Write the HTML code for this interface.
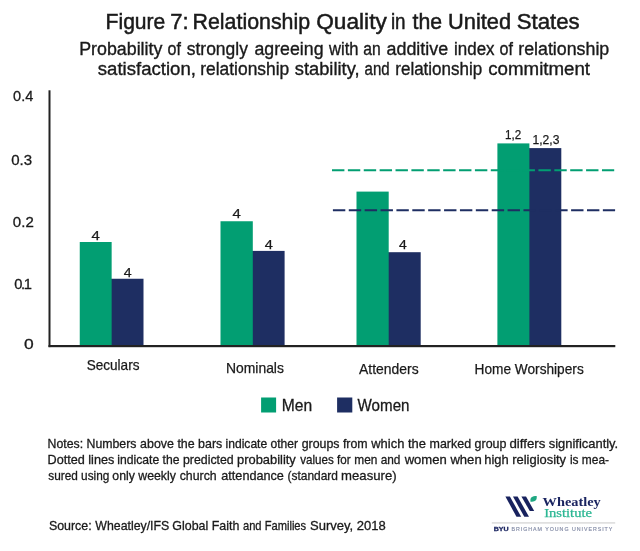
<!DOCTYPE html>
<html><head><meta charset="utf-8">
<style>
html,body{margin:0;padding:0;background:#fff;}
body{width:640px;height:551px;overflow:hidden;}
svg{display:block;}
text{font-family:"Liberation Sans",sans-serif;}
text.serif{font-family:"Liberation Serif",serif;}
</style></head><body>
<svg width="640" height="551" viewBox="0 0 640 551">
<rect width="640" height="551" fill="#ffffff"/>
<g fill="#1e2e62">
<rect x="110.6" y="278.75" width="32.9" height="67.3"/>
<rect x="251.8" y="250.9" width="32.8" height="95.3"/>
<rect x="387.7" y="252.2" width="33" height="94"/>
<rect x="528.3" y="148.1" width="33" height="198"/>
</g>
<g fill="#029e72">
<rect x="79.75" y="242" width="31.9" height="104"/>
<rect x="220.5" y="221.25" width="32.3" height="125"/>
<rect x="356.5" y="191.6" width="32.2" height="154.5"/>
<rect x="497.4" y="143.4" width="32" height="202.7"/>
</g>
<rect x="48.5" y="90.3" width="2" height="256.8" fill="#222"/>
<rect x="48.5" y="345" width="566.8" height="2.2" fill="#222"/>
<line x1="332" y1="170.25" x2="614.2" y2="170.25" stroke="#029e72" stroke-width="2.2" stroke-dasharray="12.4 3.48"/>
<line x1="332.9" y1="210.25" x2="615.1" y2="210.25" stroke="#1e2e62" stroke-width="2.2" stroke-dasharray="12.4 3.48"/>
<rect x="261.1" y="397.5" width="15" height="15" fill="#029e72"/>
<rect x="337.1" y="397.5" width="15.2" height="15" fill="#1e2e62"/>
<g fill="#18225e">
<polygon points="505.4,496.6 509.9,496.6 521.2,516.8 516.5,516.8"/>
<polygon points="513,496.6 517.6,496.6 529,516.8 524.3,516.8"/>
<polygon points="521.4,496.6 526,496.6 534.2,511 529.8,511"/>
</g>
<path d="M530.5,501.7 C529.8,497.8 532,496.1 536.7,496.1 C537.2,500.2 535,502.3 530.5,501.7 Z" fill="#1fa882"/>
<rect x="491.8" y="522.5" width="123.4" height="0.9" fill="#c2c2c2"/>

<text x="105.57" y="28.8" font-size="22.2" fill="#1a1a1a" stroke="#1a1a1a" stroke-width="0.5" textLength="59.78" lengthAdjust="spacingAndGlyphs">Figure</text>
<text x="170.26" y="28.8" font-size="22.2" fill="#1a1a1a" stroke="#1a1a1a" stroke-width="0.5" textLength="18.40" lengthAdjust="spacingAndGlyphs">7:</text>
<text x="192.56" y="28.8" font-size="22.2" fill="#1a1a1a" stroke="#1a1a1a" stroke-width="0.5" textLength="117.53" lengthAdjust="spacingAndGlyphs">Relationship</text>
<text x="316.23" y="28.8" font-size="22.2" fill="#1a1a1a" stroke="#1a1a1a" stroke-width="0.5" textLength="70.57" lengthAdjust="spacingAndGlyphs">Quality</text>
<text x="390.94" y="28.8" font-size="22.2" fill="#1a1a1a" stroke="#1a1a1a" stroke-width="0.5" textLength="14.65" lengthAdjust="spacingAndGlyphs">in</text>
<text x="412.50" y="28.8" font-size="22.2" fill="#1a1a1a" stroke="#1a1a1a" stroke-width="0.5" textLength="29.56" lengthAdjust="spacingAndGlyphs">the</text>
<text x="448.02" y="28.8" font-size="22.2" fill="#1a1a1a" stroke="#1a1a1a" stroke-width="0.5" textLength="63.10" lengthAdjust="spacingAndGlyphs">United</text>
<text x="516.75" y="28.8" font-size="22.2" fill="#1a1a1a" stroke="#1a1a1a" stroke-width="0.5" textLength="62.91" lengthAdjust="spacingAndGlyphs">States</text>
<text x="79.23" y="54.8" font-size="17.6" fill="#1a1a1a" stroke="#1a1a1a" stroke-width="0.35" textLength="83.17" lengthAdjust="spacingAndGlyphs">Probability</text>
<text x="167.54" y="54.8" font-size="17.6" fill="#1a1a1a" stroke="#1a1a1a" stroke-width="0.35" textLength="13.42" lengthAdjust="spacingAndGlyphs">of</text>
<text x="186.75" y="54.8" font-size="17.6" fill="#1a1a1a" stroke="#1a1a1a" stroke-width="0.35" textLength="61.11" lengthAdjust="spacingAndGlyphs">strongly</text>
<text x="254.50" y="54.8" font-size="17.6" fill="#1a1a1a" stroke="#1a1a1a" stroke-width="0.35" textLength="69.00" lengthAdjust="spacingAndGlyphs">agreeing</text>
<text x="328.99" y="54.8" font-size="17.6" fill="#1a1a1a" stroke="#1a1a1a" stroke-width="0.35" textLength="29.50" lengthAdjust="spacingAndGlyphs">with</text>
<text x="363.30" y="54.8" font-size="17.6" fill="#1a1a1a" stroke="#1a1a1a" stroke-width="0.35" textLength="17.43" lengthAdjust="spacingAndGlyphs">an</text>
<text x="386.49" y="54.8" font-size="17.6" fill="#1a1a1a" stroke="#1a1a1a" stroke-width="0.35" textLength="61.68" lengthAdjust="spacingAndGlyphs">additive</text>
<text x="454.04" y="54.8" font-size="17.6" fill="#1a1a1a" stroke="#1a1a1a" stroke-width="0.35" textLength="40.52" lengthAdjust="spacingAndGlyphs">index</text>
<text x="499.54" y="54.8" font-size="17.6" fill="#1a1a1a" stroke="#1a1a1a" stroke-width="0.35" textLength="13.42" lengthAdjust="spacingAndGlyphs">of</text>
<text x="518.24" y="54.8" font-size="17.6" fill="#1a1a1a" stroke="#1a1a1a" stroke-width="0.35" textLength="91.00" lengthAdjust="spacingAndGlyphs">relationship</text>
<text x="97.74" y="74.9" font-size="17.6" fill="#1a1a1a" stroke="#1a1a1a" stroke-width="0.35" textLength="98.25" lengthAdjust="spacingAndGlyphs">satisfaction,</text>
<text x="200.26" y="74.9" font-size="17.6" fill="#1a1a1a" stroke="#1a1a1a" stroke-width="0.35" textLength="88.97" lengthAdjust="spacingAndGlyphs">relationship</text>
<text x="294.74" y="74.9" font-size="17.6" fill="#1a1a1a" stroke="#1a1a1a" stroke-width="0.35" textLength="64.82" lengthAdjust="spacingAndGlyphs">stability,</text>
<text x="364.57" y="74.9" font-size="17.6" fill="#1a1a1a" stroke="#1a1a1a" stroke-width="0.35" textLength="25.13" lengthAdjust="spacingAndGlyphs">and</text>
<text x="395.28" y="74.9" font-size="17.6" fill="#1a1a1a" stroke="#1a1a1a" stroke-width="0.35" textLength="86.93" lengthAdjust="spacingAndGlyphs">relationship</text>
<text x="488.22" y="74.9" font-size="17.6" fill="#1a1a1a" stroke="#1a1a1a" stroke-width="0.35" textLength="101.85" lengthAdjust="spacingAndGlyphs">commitment</text>
<text x="13.11" y="101.3" font-size="14.7" fill="#1a1a1a" stroke="#1a1a1a" stroke-width="0.3" textLength="20.16" lengthAdjust="spacingAndGlyphs">0.4</text>
<text x="11.24" y="165.3" font-size="14.7" fill="#1a1a1a" stroke="#1a1a1a" stroke-width="0.3" textLength="20.89" lengthAdjust="spacingAndGlyphs">0.3</text>
<text x="12.89" y="227.2" font-size="14.7" fill="#1a1a1a" stroke="#1a1a1a" stroke-width="0.3" textLength="20.90" lengthAdjust="spacingAndGlyphs">0.2</text>
<text x="23.91" y="348.7" font-size="14.7" fill="#1a1a1a" stroke="#1a1a1a" stroke-width="0.3" textLength="9.69" lengthAdjust="spacingAndGlyphs">0</text>
<text x="91.60" y="239.9" font-size="12.6" fill="#1a1a1a" stroke="#1a1a1a" stroke-width="0.25" textLength="8.31" lengthAdjust="spacingAndGlyphs">4</text>
<text x="123.72" y="276.5" font-size="12.6" fill="#1a1a1a" stroke="#1a1a1a" stroke-width="0.25" textLength="7.88" lengthAdjust="spacingAndGlyphs">4</text>
<text x="232.60" y="217.5" font-size="12.6" fill="#1a1a1a" stroke="#1a1a1a" stroke-width="0.25" textLength="8.31" lengthAdjust="spacingAndGlyphs">4</text>
<text x="264.71" y="248.5" font-size="12.6" fill="#1a1a1a" stroke="#1a1a1a" stroke-width="0.25" textLength="8.09" lengthAdjust="spacingAndGlyphs">4</text>
<text x="399.12" y="249.4" font-size="12.6" fill="#1a1a1a" stroke="#1a1a1a" stroke-width="0.25" textLength="7.77" lengthAdjust="spacingAndGlyphs">4</text>
<text x="504.93" y="139.3" font-size="13" fill="#1a1a1a" stroke="#1a1a1a" stroke-width="0.25" textLength="16.19" lengthAdjust="spacingAndGlyphs">1,2</text>
<text x="532.40" y="144.3" font-size="13" fill="#1a1a1a" stroke="#1a1a1a" stroke-width="0.25" textLength="26.99" lengthAdjust="spacingAndGlyphs">1,2,3</text>
<text x="86.63" y="369.7" font-size="14.5" fill="#1a1a1a" stroke="#1a1a1a" stroke-width="0.25" textLength="52.86" lengthAdjust="spacingAndGlyphs">Seculars</text>
<text x="225.94" y="372.6" font-size="14.5" fill="#1a1a1a" stroke="#1a1a1a" stroke-width="0.25" textLength="57.98" lengthAdjust="spacingAndGlyphs">Nominals</text>
<text x="359.00" y="374.3" font-size="14.5" fill="#1a1a1a" stroke="#1a1a1a" stroke-width="0.25" textLength="59.62" lengthAdjust="spacingAndGlyphs">Attenders</text>
<text x="474.56" y="374.25" font-size="14.5" fill="#1a1a1a" stroke="#1a1a1a" stroke-width="0.25" textLength="109.19" lengthAdjust="spacingAndGlyphs">Home Worshipers</text>
<text x="281.82" y="410.8" font-size="16.5" fill="#1a1a1a" stroke="#1a1a1a" stroke-width="0.3" textLength="30.40" lengthAdjust="spacingAndGlyphs">Men</text>
<text x="357.60" y="410.8" font-size="16.5" fill="#1a1a1a" stroke="#1a1a1a" stroke-width="0.3" textLength="51.95" lengthAdjust="spacingAndGlyphs">Women</text>
<text x="47.54" y="447.7" font-size="12.8" fill="#1a1a1a" stroke="#1a1a1a" stroke-width="0.3" textLength="88.91" lengthAdjust="spacingAndGlyphs">Notes: Numbers</text>
<text x="140.11" y="447.7" font-size="12.8" fill="#1a1a1a" stroke="#1a1a1a" stroke-width="0.3" textLength="82.19" lengthAdjust="spacingAndGlyphs">above the bars</text>
<text x="225.54" y="447.7" font-size="12.8" fill="#1a1a1a" stroke="#1a1a1a" stroke-width="0.3" textLength="72.55" lengthAdjust="spacingAndGlyphs">indicate other</text>
<text x="301.72" y="447.7" font-size="12.8" fill="#1a1a1a" stroke="#1a1a1a" stroke-width="0.3" textLength="65.94" lengthAdjust="spacingAndGlyphs">groups from</text>
<text x="371.25" y="447.7" font-size="12.8" fill="#1a1a1a" stroke="#1a1a1a" stroke-width="0.3" textLength="54.66" lengthAdjust="spacingAndGlyphs">which the</text>
<text x="429.57" y="447.7" font-size="12.8" fill="#1a1a1a" stroke="#1a1a1a" stroke-width="0.3" textLength="76.89" lengthAdjust="spacingAndGlyphs">marked group</text>
<text x="509.48" y="447.7" font-size="12.8" fill="#1a1a1a" stroke="#1a1a1a" stroke-width="0.3" textLength="35.91" lengthAdjust="spacingAndGlyphs">differs</text>
<text x="548.75" y="447.7" font-size="12.8" fill="#1a1a1a" stroke="#1a1a1a" stroke-width="0.3" textLength="69.48" lengthAdjust="spacingAndGlyphs">significantly.</text>
<text x="47.51" y="463.7" font-size="12.8" fill="#1a1a1a" stroke="#1a1a1a" stroke-width="0.3" textLength="66.81" lengthAdjust="spacingAndGlyphs">Dotted lines</text>
<text x="117.29" y="463.7" font-size="12.8" fill="#1a1a1a" stroke="#1a1a1a" stroke-width="0.3" textLength="62.14" lengthAdjust="spacingAndGlyphs">indicate the</text>
<text x="183.03" y="463.7" font-size="12.8" fill="#1a1a1a" stroke="#1a1a1a" stroke-width="0.3" textLength="50.70" lengthAdjust="spacingAndGlyphs">predicted</text>
<text x="237.04" y="463.7" font-size="12.8" fill="#1a1a1a" stroke="#1a1a1a" stroke-width="0.3" textLength="58.80" lengthAdjust="spacingAndGlyphs">probability</text>
<text x="300.30" y="463.7" font-size="12.8" fill="#1a1a1a" stroke="#1a1a1a" stroke-width="0.3" textLength="50.29" lengthAdjust="spacingAndGlyphs">values for</text>
<text x="354.31" y="463.7" font-size="12.8" fill="#1a1a1a" stroke="#1a1a1a" stroke-width="0.3" textLength="46.15" lengthAdjust="spacingAndGlyphs">men and</text>
<text x="404.66" y="463.7" font-size="12.8" fill="#1a1a1a" stroke="#1a1a1a" stroke-width="0.3" textLength="77.01" lengthAdjust="spacingAndGlyphs">women when</text>
<text x="484.24" y="463.7" font-size="12.8" fill="#1a1a1a" stroke="#1a1a1a" stroke-width="0.3" textLength="81.85" lengthAdjust="spacingAndGlyphs">high religiosity</text>
<text x="569.90" y="463.7" font-size="12.8" fill="#1a1a1a" stroke="#1a1a1a" stroke-width="0.3" textLength="39.12" lengthAdjust="spacingAndGlyphs">is mea-</text>
<text x="48.27" y="480.1" font-size="12.8" fill="#1a1a1a" stroke="#1a1a1a" stroke-width="0.3" textLength="61.10" lengthAdjust="spacingAndGlyphs">sured using</text>
<text x="112.32" y="480.1" font-size="12.8" fill="#1a1a1a" stroke="#1a1a1a" stroke-width="0.3" textLength="63.59" lengthAdjust="spacingAndGlyphs">only weekly</text>
<text x="179.72" y="480.1" font-size="12.8" fill="#1a1a1a" stroke="#1a1a1a" stroke-width="0.3" textLength="36.93" lengthAdjust="spacingAndGlyphs">church</text>
<text x="221.31" y="480.1" font-size="12.8" fill="#1a1a1a" stroke="#1a1a1a" stroke-width="0.3" textLength="62.63" lengthAdjust="spacingAndGlyphs">attendance</text>
<text x="287.50" y="480.1" font-size="12.8" fill="#1a1a1a" stroke="#1a1a1a" stroke-width="0.3" textLength="50.46" lengthAdjust="spacingAndGlyphs">(standard</text>
<text x="341.13" y="480.1" font-size="12.8" fill="#1a1a1a" stroke="#1a1a1a" stroke-width="0.3" textLength="55.45" lengthAdjust="spacingAndGlyphs">measure)</text>
<text x="48.92" y="529.6" font-size="12.8" fill="#1a1a1a" stroke="#1a1a1a" stroke-width="0.3" textLength="42.76" lengthAdjust="spacingAndGlyphs">Source:</text>
<text x="95.30" y="529.6" font-size="12.8" fill="#1a1a1a" stroke="#1a1a1a" stroke-width="0.3" textLength="73.99" lengthAdjust="spacingAndGlyphs">Wheatley/IFS</text>
<text x="172.31" y="529.6" font-size="12.8" fill="#1a1a1a" stroke="#1a1a1a" stroke-width="0.3" textLength="67.01" lengthAdjust="spacingAndGlyphs">Global Faith</text>
<text x="242.96" y="529.6" font-size="12.8" fill="#1a1a1a" stroke="#1a1a1a" stroke-width="0.3" textLength="63.19" lengthAdjust="spacingAndGlyphs">and Families</text>
<text x="310.09" y="529.6" font-size="12.8" fill="#1a1a1a" stroke="#1a1a1a" stroke-width="0.3" textLength="75.68" lengthAdjust="spacingAndGlyphs">Survey, 2018</text>
<text class="serif" x="542.61" y="505.6" font-size="12.3" font-weight="bold" fill="#1a2460" textLength="58.14" lengthAdjust="spacingAndGlyphs">Wheatley</text>
<text class="serif" x="544.20" y="516.6" font-size="12.3" fill="#2bb793" stroke="#2bb793" stroke-width="0.25" textLength="47.77" lengthAdjust="spacingAndGlyphs">Institute</text>
<text x="493.72" y="531.3" font-size="6.2" font-weight="bold" fill="#1a2460" stroke="#1a2460" stroke-width="0.3" textLength="14.86" lengthAdjust="spacingAndGlyphs">BYU</text>
<text x="511.50" y="531.3" font-size="5.3" fill="#838ba6" stroke="#838ba6" stroke-width="0.15" letter-spacing="0.959">BRIGHAM YOUNG UNIVERSITY</text>
<text x="14.2" y="289.3" font-size="14.7" fill="#1a1a1a" stroke="#1a1a1a" stroke-width="0.3" letter-spacing="-1.3">0.1</text>
</svg>
</body></html>
